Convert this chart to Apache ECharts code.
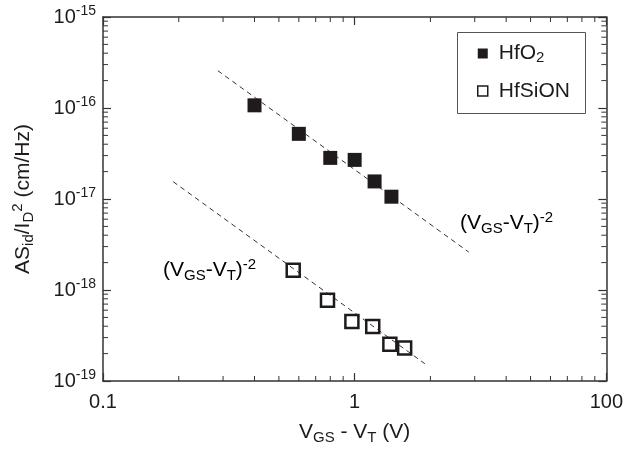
<!DOCTYPE html>
<html>
<head>
<meta charset="utf-8">
<script src="https://cdn.jsdelivr.net/npm/echarts@6/dist/echarts.min.js"></script>
<style>
  html, body { margin: 0; padding: 0; background: #fff; }
  #chart { width: 626px; height: 450px; }
</style>
</head>
<body>
<div id="chart"></div>
<script>
// Normalised drain-current noise versus gate overdrive
const hfo2X   = [0.40, 0.60, 0.80, 1.00, 1.20, 1.40];
const hfo2Y   = [1.07e-16, 5.2e-17, 2.83e-17, 2.69e-17, 1.56e-17, 1.06e-17];
const hfsionX = [0.57, 0.78, 0.975, 1.18, 1.38, 1.58];
const hfsionY = [1.65e-18, 7.7e-19, 4.5e-19, 3.96e-19, 2.54e-19, 2.30e-19];

// (VGS-VT)^-2 guide lines, end points
const guideHfo2X   = [0.286, 2.84];
const guideHfo2Y   = [2.57e-16, 2.61e-18];
const guideHfsionX = [0.19, 1.9];
const guideHfsionY = [1.55e-17, 1.55e-19];

// axis tick labels
const xTickValues = [0.1, 1, 10];
const xTickLabels = ['0.1', '1', '100'];
const yTickExponents = [-15, -16, -17, -18, -19];

const FONT = '"Liberation Sans", Arial, Helvetica, sans-serif';
const INK = '#1f1b1c';

const pairs = (xs, ys) => xs.map((x, i) => [x, ys[i]]);

const richBase = {
  m:   { fontSize: 21, fontFamily: FONT, color: INK, lineHeight: 26 },
  sub: { fontSize: 15, fontFamily: FONT, color: INK, lineHeight: 15, verticalAlign: 'bottom' },
  sup: { fontSize: 15, fontFamily: FONT, color: INK, lineHeight: 15, verticalAlign: 'top' }
};

const axisLineStyle = { color: '#333', width: 1.5 };
const majorTick = { show: true, inside: true, length: 8, lineStyle: { color: '#333', width: 1.2 } };

function xLabel(v) {
  const k = Math.round(Math.log10(v)) + 1;
  return xTickLabels[k] !== undefined ? xTickLabels[k] : '';
}
function yLabel(v) {
  const e = Math.round(Math.log10(v));
  return yTickExponents.indexOf(e) >= 0 ? '{b|10}{s|' + e + '}' : '';
}

const chart = echarts.init(document.getElementById('chart'), null, { renderer: 'canvas' });

const logX = {
  type: 'log', logBase: 10, min: xTickValues[0], max: xTickValues[xTickValues.length - 1],
  axisLine: { lineStyle: axisLineStyle }, axisTick: majorTick,
  minorTick: { show: false }, splitLine: { show: false }
};
const logY = {
  type: 'log', logBase: 10, min: 1e-19, max: 1e-15,
  axisLine: { lineStyle: axisLineStyle }, axisTick: majorTick,
  minorTick: { show: false }, splitLine: { show: false }
};

chart.setOption({
  animation: false,
  backgroundColor: '#fff',
  grid: { left: 103, right: 18, top: 17, bottom: 67, containLabel: false },
  xAxis: [
    Object.assign({}, logX, {
      position: 'bottom',
      axisLabel: { formatter: xLabel, fontSize: 20, fontFamily: FONT, color: INK, margin: 11 },
      name: '{m|V}{sub|GS}{m| - V}{sub|T}{m| (V)}',
      nameLocation: 'middle', nameGap: 38,
      nameTextStyle: { rich: richBase }
    }),
    Object.assign({}, logX, { position: 'top', axisLabel: { show: false } })
  ],
  yAxis: [
    Object.assign({}, logY, {
      position: 'left',
      axisLabel: {
        formatter: yLabel, margin: 7,
        rich: {
          b: { fontSize: 20, fontFamily: FONT, color: INK, lineHeight: 26 },
          s: { fontSize: 14, fontFamily: FONT, color: INK, lineHeight: 14, verticalAlign: 'top' }
        }
      },
      name: '{m|AS}{sub|id}{m|/I}{sub|D}{sup|2}{m| (cm/Hz)}',
      nameLocation: 'middle', nameGap: 67, nameRotate: 90,
      nameTextStyle: { rich: richBase }
    }),
    Object.assign({}, logY, { position: 'right', axisLabel: { show: false } })
  ],
  legend: {
    orient: 'vertical',
    left: 477, top: 43,
    itemWidth: 10, itemHeight: 10, itemGap: 15,
    padding: 0,
    icon: 'rect',
    selectedMode: false,
    data: [
      { name: 'HfO2', itemStyle: { color: INK, borderWidth: 0 } },
      { name: 'HfSiON', itemStyle: { color: '#fff', borderColor: INK, borderWidth: 1.5 } }
    ],
    formatter: n => n === 'HfO2' ? '{t|HfO}{sub|2}' : '{t|HfSiON}',
    textStyle: {
      rich: {
        t:   { fontSize: 21, fontFamily: FONT, color: INK, lineHeight: 24, padding: [0, 0, 0, 6] },
        sub: { fontSize: 15, fontFamily: FONT, color: INK, lineHeight: 12, verticalAlign: 'bottom' }
      }
    }
  },
  series: [
    {
      name: 'guideHfO2', type: 'line', data: pairs(guideHfo2X, guideHfo2Y),
      symbol: 'none', silent: true, z: 1,
      lineStyle: { color: '#333', width: 1, type: [5, 4] }
    },
    {
      name: 'guideHfSiON', type: 'line', data: pairs(guideHfsionX, guideHfsionY),
      symbol: 'none', silent: true, z: 1,
      lineStyle: { color: '#333', width: 1, type: [5, 4] }
    },
    {
      name: 'HfO2', type: 'scatter', data: pairs(hfo2X, hfo2Y),
      symbol: 'rect', symbolSize: 14, z: 3,
      itemStyle: { color: INK, opacity: 1 }
    },
    {
      name: 'HfSiON', type: 'scatter', data: pairs(hfsionX, hfsionY),
      symbol: 'rect', symbolSize: 13, z: 3,
      itemStyle: { color: 'rgba(255,255,255,0)', borderColor: INK, borderWidth: 2.5, opacity: 1 }
    }
  ]
});

// Minor ticks at 2..9 within each decade, on all four sides of the frame,
// plus the legend frame and the slope annotations.
const graphics = [];
const toX = v => chart.convertToPixel({ xAxisIndex: 0 }, v);
const toY = v => chart.convertToPixel({ yAxisIndex: 0 }, v);
const x0 = toX(0.1), x1 = toX(10), y0 = toY(1e-19), y1 = toY(1e-15);
const tickStyle = { stroke: '#333', lineWidth: 1 };
const MINOR = 5;

[0.1, 1].forEach(d => {
  for (let k = 2; k <= 9; k++) {
    const px = toX(d * k);
    graphics.push({ type: 'line', shape: { x1: px, y1: y0, x2: px, y2: y0 - MINOR }, style: tickStyle, silent: true });
    graphics.push({ type: 'line', shape: { x1: px, y1: y1, x2: px, y2: y1 + MINOR }, style: tickStyle, silent: true });
  }
});
[1e-19, 1e-18, 1e-17, 1e-16].forEach(d => {
  for (let k = 2; k <= 9; k++) {
    const py = toY(d * k);
    graphics.push({ type: 'line', shape: { x1: x0, y1: py, x2: x0 + MINOR, y2: py }, style: tickStyle, silent: true });
    graphics.push({ type: 'line', shape: { x1: x1, y1: py, x2: x1 - MINOR, y2: py }, style: tickStyle, silent: true });
  }
});

graphics.push({
  type: 'rect', shape: { x: 457.5, y: 32.5, width: 128, height: 81 },
  style: { fill: 'none', stroke: '#555', lineWidth: 1 }, silent: true, z: 10
});

const slopeText = '{m|(V}{sub|GS}{m|-V}{sub|T}{m|)}{sup|-2}';
[[460, 223], [163, 270]].forEach(([x, y]) => {
  graphics.push({
    type: 'text', x: x, y: y, silent: true, z: 10,
    style: { text: slopeText, rich: richBase, align: 'left', verticalAlign: 'middle' }
  });
});

chart.setOption({ graphic: graphics });
</script>
</body>
</html>
